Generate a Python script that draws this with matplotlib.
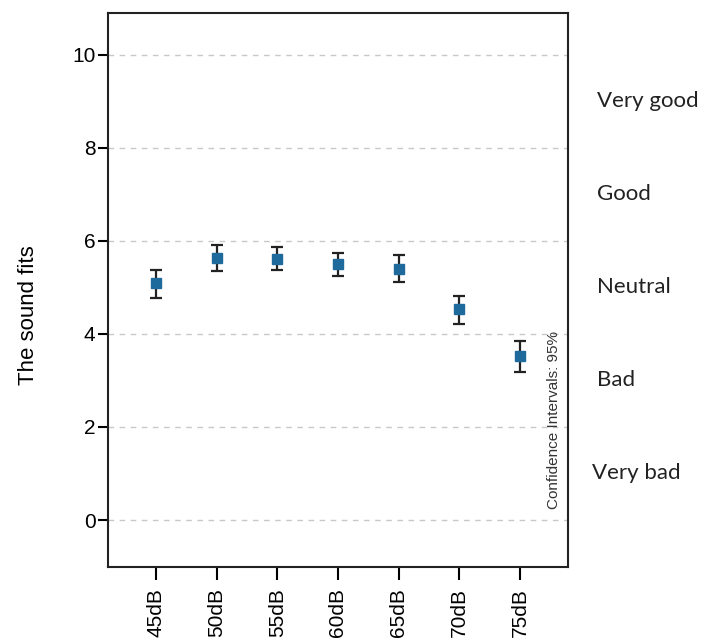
import numpy as np
import matplotlib
matplotlib.use("Agg")
from matplotlib import pyplot as plt

# -----------------------------
# Data
# -----------------------------
levels = ["45dB", "50dB", "55dB", "60dB", "65dB", "70dB", "75dB"]
means = [5.09, 5.63, 5.61, 5.50, 5.40, 4.53, 3.53]
ci_low = [4.77, 5.35, 5.38, 5.25, 5.11, 4.22, 3.19]
ci_high = [5.38, 5.91, 5.86, 5.75, 5.70, 4.82, 3.85]

scale_labels = ["Very bad", "Bad", "Neutral", "Good", "Very good"]
scale_pos = [1, 3, 5, 7, 9]


def main():
    plt.rcParams["font.family"] = ["Liberation Sans", "DejaVu Sans"]
    fig = plt.figure(figsize=(7.18, 6.39), dpi=100)
    ax = fig.add_axes([0.1504, 0.1127, 0.6406, 0.8670])

    x = np.arange(len(levels))
    m = np.array(means)
    yerr = [m - np.array(ci_low), np.array(ci_high) - m]

    # dashed reference lines
    for yv in range(0, 11, 2):
        ax.axhline(yv, color="#c8c8c8", linestyle=(0, (4, 4)), linewidth=1, zorder=0)

    ax.errorbar(x, m, yerr=yerr, fmt="s", color="#1f6a9c", markersize=7,
                ecolor="#222222", elinewidth=1.6, capsize=4, capthick=1.6)

    ax.set_xlim(-0.79, 6.79)
    ax.set_ylim(-1.01, 10.9)
    ax.set_yticks(range(0, 11, 2))
    ax.set_xticks(x)
    ax.set_xticklabels(levels, rotation=90, fontsize=15)
    ax.tick_params(axis="y", labelsize=15, length=7, width=1.5, direction="out", pad=2)
    ax.tick_params(axis="x", length=9, width=1.5, direction="out", pad=6)
    for sp in ax.spines.values():
        sp.set_linewidth(1.5)
        sp.set_color("#222222")

    ax.set_ylabel("The sound fits", fontsize=16)
    ax.yaxis.set_label_coords(-0.15, 0.455)

    ax.text(0.985, 0.265, "Confidence Intervals: 95%", rotation=90, transform=ax.transAxes,
            ha="right", va="center", fontsize=11, color="#333333")

    # rating scale on the right
    for lab, pos in zip(scale_labels, scale_pos):
        xoff = 1.052 if lab == "Very bad" else 1.063
        ax.text(xoff, pos, lab, transform=ax.get_yaxis_transform(),
                ha="left", va="center", fontsize=16, color="#222222",
                family=["Lato", "DejaVu Sans"])

    fig.savefig("out.png", dpi=100)


if __name__ == "__main__":
    main()
